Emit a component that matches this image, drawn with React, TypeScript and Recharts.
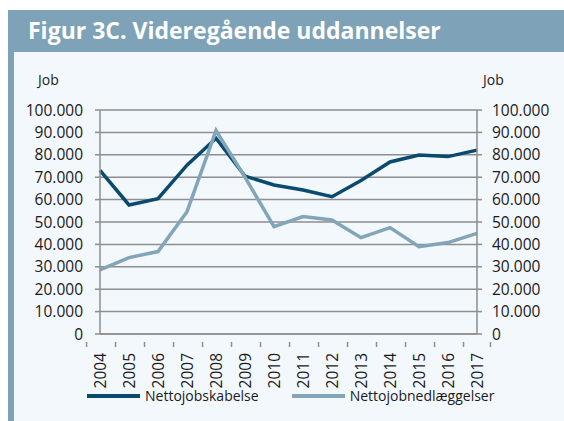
import React from 'react';
import { LineChart, Line, XAxis, YAxis, CartesianGrid } from 'recharts';

const title = 'Figur 3C. Videregående uddannelser';
const axisUnit = 'Job';
const years = ['2004', '2005', '2006', '2007', '2008', '2009', '2010', '2011', '2012', '2013', '2014', '2015', '2016', '2017'];
const nettojobskabelse = [73000, 57600, 60400, 75400, 87400, 70500, 66500, 64300, 61300, 68500, 76800, 79900, 79200, 82100];
const nettojobnedlaeggelser = [28600, 34100, 36800, 54600, 90800, 70000, 47900, 52400, 50900, 43000, 47500, 39000, 40800, 44900];
const yTicks = [0, 10000, 20000, 30000, 40000, 50000, 60000, 70000, 80000, 90000, 100000];
const seriesNames = ['Nettojobskabelse', 'Nettojobnedlæggelser'];

const DARK = '#0b4a6f';
const LIGHT = '#82a5ba';
const FRAME = '#7ea2b7';
const PANEL = '#f3f8fc';
const GRID = '#8e8e8e';
const TEXT = '#1a1a1a';
const FONT = '"Open Sans", sans-serif';
const NUM_SIZE = 15.5;

const W = 564;
const H = 421;
const LEFT_AXIS_W = 100;
const RIGHT_AXIS_W = 87;
const PLOT_W = W - LEFT_AXIS_W - RIGHT_AXIS_W;
const STEP = PLOT_W / years.length;

const data = years.map((y, i) => ({
  year: y,
  a: nettojobskabelse[i],
  b: nettojobnedlaeggelser[i],
}));

const fmt = (v: number) => String(v).replace(/\B(?=(\d{3})+(?!\d))/g, '.');

const XTick = (props: any) => {
  const { x, y, payload, index } = props;
  const last = index === years.length - 1;
  return (
    <g>
      <line x1={x - STEP / 2} x2={x - STEP / 2} y1={y} y2={y + 5} stroke={GRID} strokeWidth={1.5} />
      {last && <line x1={x + STEP / 2} x2={x + STEP / 2} y1={y} y2={y + 5} stroke={GRID} strokeWidth={1.5} />}
      <text
        x={x}
        y={y + 11}
        transform={`rotate(-90, ${x}, ${y + 11})`}
        textAnchor="end"
        dy="0.36em"
        fontSize={NUM_SIZE}
        fontFamily={FONT}
        fill={TEXT}
      >
        {payload.value}
      </text>
    </g>
  );
};

const YTickLeft = (props: any) => {
  const { x, y, payload } = props;
  return (
    <text x={x} y={y} dy="0.36em" textAnchor="end" fontSize={NUM_SIZE} fontFamily={FONT} fill={TEXT}>
      {fmt(payload.value)}
    </text>
  );
};

const YTickRight = (props: any) => {
  const { x, y, payload } = props;
  return (
    <text x={x} y={y} dy="0.36em" textAnchor="start" fontSize={NUM_SIZE} fontFamily={FONT} fill={TEXT}>
      {fmt(payload.value)}
    </text>
  );
};

export default function App() {
  return (
    <div style={{ position: 'absolute', left: 0, top: 0, width: W, height: H, background: '#fff', overflow: 'hidden' }}>
      <div style={{ position: 'absolute', left: 8, top: 10, width: 6, height: H - 10, background: FRAME }} />
      <div style={{ position: 'absolute', left: 8, top: 10, width: W - 8, height: 42, background: FRAME }}>
        <div
          style={{
            position: 'absolute',
            left: 20,
            top: 4,
            color: '#fff',
            fontFamily: FONT,
            fontWeight: 700,
            fontSize: 23,
            whiteSpace: 'nowrap',
          }}
        >
          {title}
        </div>
      </div>
      <div style={{ position: 'absolute', left: 14, top: 52, width: W - 14, height: H - 52, background: PANEL }} />
      <div style={{ position: 'absolute', left: 38, top: 70, fontFamily: FONT, fontSize: 14, color: TEXT }}>{axisUnit}</div>
      <div style={{ position: 'absolute', left: 483, top: 70, fontFamily: FONT, fontSize: 14, color: TEXT }}>{axisUnit}</div>
      <div style={{ position: 'absolute', left: 0, top: 0 }}>
        <LineChart width={W} height={H} data={data} margin={{ top: 110, right: 0, bottom: 0, left: 0 }}>
          <CartesianGrid vertical={false} stroke={GRID} strokeWidth={1.5} yAxisId="left" />
          <XAxis
            dataKey="year"
            height={87}
            axisLine={{ stroke: GRID, strokeWidth: 1.5 }}
            tickLine={false}
            interval={0}
            tick={<XTick />}
          />
          <YAxis
            yAxisId="left"
            orientation="left"
            width={LEFT_AXIS_W}
            domain={[0, 100000]}
            ticks={yTicks}
            axisLine={{ stroke: GRID, strokeWidth: 1.5 }}
            tickLine={{ stroke: GRID, strokeWidth: 1.5 }}
            tickSize={5}
            tickMargin={12}
            tick={<YTickLeft />}
            interval={0}
          />
          <YAxis
            yAxisId="right"
            orientation="right"
            width={RIGHT_AXIS_W}
            domain={[0, 100000]}
            ticks={yTicks}
            axisLine={{ stroke: GRID, strokeWidth: 1.5 }}
            tickLine={{ stroke: GRID, strokeWidth: 1.5 }}
            tickSize={5}
            tickMargin={10}
            tick={<YTickRight />}
            interval={0}
          />
          <Line yAxisId="left" type="linear" dataKey="a" name={seriesNames[0]} stroke={DARK} strokeWidth={3.5} dot={false} isAnimationActive={false} />
          <Line yAxisId="right" type="linear" dataKey="b" name={seriesNames[1]} stroke={LIGHT} strokeWidth={3.5} dot={false} isAnimationActive={false} />
        </LineChart>
      </div>
      <div
        style={{
          position: 'absolute',
          left: 87,
          top: 386,
          display: 'flex',
          alignItems: 'center',
          fontFamily: FONT,
          fontSize: 14,
          color: TEXT,
          whiteSpace: 'nowrap',
        }}
      >
        {seriesNames.map((n, i) => (
          <div key={n} style={{ display: 'flex', alignItems: 'center', marginRight: 33 }}>
            <div style={{ width: 53, height: 4, background: i === 0 ? DARK : LIGHT, marginRight: 5 }} />
            <span>{n}</span>
          </div>
        ))}
      </div>
    </div>
  );
}
